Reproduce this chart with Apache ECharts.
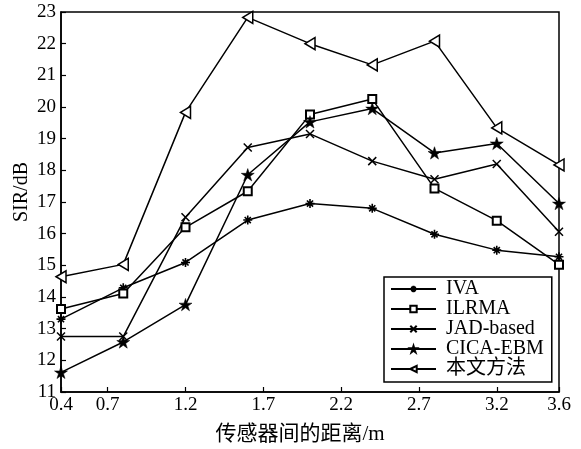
<!DOCTYPE html>
<html>
<head>
<meta charset="utf-8">
<script src="https://cdn.jsdelivr.net/npm/echarts@6/dist/echarts.min.js"></script>
<style>html,body{margin:0;padding:0;background:#fff;}#c{width:581px;height:449px;}</style>
</head>
<body>
<div id="c"></div>
<script>
var distances = [0.4, 0.8, 1.2, 1.6, 2.0, 2.4, 2.8, 3.2, 3.6];
var xTickLabels = [0.4, 0.7, 1.2, 1.7, 2.2, 2.7, 3.2, 3.6];
var seriesNames = ['IVA', 'ILRMA', 'JAD-based', 'CICA-EBM', '本文方法'];
var ivaValues = [13.3, 14.29, 15.09, 16.43, 16.95, 16.8, 15.98, 15.48, 15.27];
var ilrmaValues = [13.62, 14.11, 16.2, 17.34, 19.76, 20.25, 17.43, 16.41, 15.02];
var jadValues = [12.75, 12.75, 16.52, 18.72, 19.15, 18.29, 17.72, 18.2, 16.06];
var cicaValues = [11.62, 12.58, 13.76, 17.86, 19.53, 19.95, 18.55, 18.85, 16.95];
var proposedValues = [14.64, 15.03, 19.83, 22.83, 22.0, 21.33, 22.08, 19.34, 18.17];

function pairs(vals) { return distances.map(function (d, i) { return [d, vals[i]]; }); }

var serif = '"Liberation Serif", "Times New Roman", "Noto Sans CJK SC", serif';
var asterisk = 'path://M5,0L5,10M0,5L10,5M1.6,1.6L8.4,8.4M8.4,1.6L1.6,8.4';
var cross = 'path://M0,0L10,10M10,0L0,10';
var star = 'path://M50,0L61.23,34.55L97.55,34.55L68.16,55.9L79.39,90.45L50,69.1L20.61,90.45L31.84,55.9L2.45,34.55L38.77,34.55Z';
var leftTri = 'path://M0,6L10,0L10,12Z';

function mk(name, vals, symbol, size, itemStyle) {
  return {
    name: name, type: 'line', data: pairs(vals), symbol: symbol, symbolSize: size,
    symbolKeepAspect: true, showAllSymbol: true,
    lineStyle: { color: '#000', width: 1.5 },
    itemStyle: itemStyle,
    emphasis: { disabled: true }, animation: false, z: 3
  };
}

var chart = echarts.init(document.getElementById('c'));
chart.setOption({
  backgroundColor: '#fff',
  animation: false,
  grid: { left: 61, right: 22, top: 12, bottom: 57, show: true, borderColor: '#000', borderWidth: 1.5, backgroundColor: 'transparent' },
  xAxis: {
    type: 'value', min: 0.4, max: 3.6,
    axisLine: { show: true, lineStyle: { color: '#000', width: 1.5 } },
    axisTick: { show: true, inside: true, length: 5, customValues: xTickLabels, lineStyle: { color: '#000', width: 1.2 } },
    axisLabel: { customValues: xTickLabels, color: '#000', fontFamily: serif, fontSize: 19, margin: 4,
      formatter: function (v) { return (Math.round(v * 10) / 10).toFixed(1); } },
    splitLine: { show: false }
  },
  yAxis: {
    type: 'value', min: 11, max: 23, interval: 1,
    axisLine: { show: true, lineStyle: { color: '#000', width: 1.5 } },
    axisTick: { show: true, inside: true, length: 5, lineStyle: { color: '#000', width: 1.2 } },
    axisLabel: { color: '#000', fontFamily: serif, fontSize: 19, margin: 5 },
    splitLine: { show: false }
  },
  legend: {
    orient: 'vertical', left: 384, top: 277,
    data: seriesNames, selectedMode: false,
    backgroundColor: '#fff', borderColor: '#000', borderWidth: 1.5, borderRadius: 0,
    padding: [2, 8, 3, 6], itemGap: 0, itemWidth: 45, itemHeight: 8,
    textStyle: { color: '#000', fontFamily: serif, fontSize: 20, lineHeight: 20, padding: [0, 0, 0, 5] }
  },
  graphic: [
    { type: 'text', x: 22, y: 192, rotation: Math.PI / 2,
      style: { text: 'SIR/dB', font: '20px ' + serif, textAlign: 'center', textVerticalAlign: 'middle', fill: '#000' } },
    { type: 'text', x: 300, y: 434,
      style: { text: '传感器间的距离/m', font: '21px ' + serif, textAlign: 'center', textVerticalAlign: 'middle', fill: '#000' } }
  ],
  series: [
    mk(seriesNames[0], ivaValues, asterisk, 9, { color: '#000', borderColor: '#000', borderWidth: 1.6 }),
    mk(seriesNames[1], ilrmaValues, 'emptyRect', 8, { color: '#000', borderColor: '#000', borderWidth: 1.5 }),
    mk(seriesNames[2], jadValues, cross, 8, { color: '#000', borderColor: '#000', borderWidth: 1.5 }),
    mk(seriesNames[3], cicaValues, star, 13, { color: '#000', borderColor: '#000', borderWidth: 0.5 }),
    mk(seriesNames[4], proposedValues, leftTri, 12, { color: '#fff', borderColor: '#000', borderWidth: 1.5 })
  ]
});
</script>
</body>
</html>
